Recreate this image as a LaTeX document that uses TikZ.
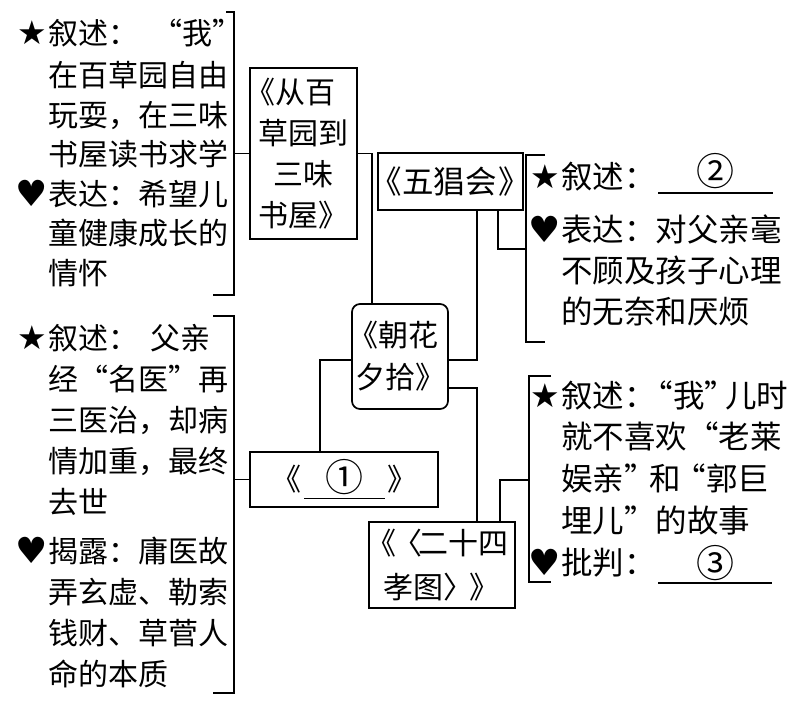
\documentclass[tikz,border=0pt]{standalone}
\usepackage{fontspec}
\setmainfont{Noto Sans CJK SC}
\newfontfamily\symfont{DejaVu Sans}
\newcommand\mystar{\llap{\raisebox{0pt}{\symfont\fontsize{33}{33}\selectfont ★}\kern1.5pt}}
\newcommand\myheart{\llap{\raisebox{-1pt}{\symfont\fontsize{36}{36}\selectfont ♥}\kern0pt}}
\newcommand\circd[2]{\smash{\raisebox{#1}{\fontsize{38}{38}\selectfont #2}}}
\newcommand\blank[4]{\rlap{\smash{\rule[#1]{#2}{1.5pt}}}\makebox[#2]{\circd{#3}{#4}}}
\tikzset{
  ln/.style={line width=1.7pt},
  box/.style={draw, line width=1.7pt, inner sep=0pt, align=center},
  txt/.style={inner sep=0pt, anchor=north west, align=left},
  lfont/.style={font=\fontsize{30}{39.5}\selectfont},
  rfont/.style={font=\fontsize{31.5}{41.7}\selectfont},
}
\begin{document}
\begin{tikzpicture}[x=1pt,y=-1pt]
\useasboundingbox (0,0) rectangle (804,705);
% text blocks
\node[txt, lfont] (tl) at (48,14.5) {\rule{0pt}{30pt}\mystar 叙述：\hspace{14pt}“我”\\[2.5pt]
在百草园自由\\ 玩耍，在三味\\ 书屋读书求学\\ \myheart 表达：希望儿\\ 童健康成长的\\ 情怀};
\node[txt, font=\fontsize{30}{41}\selectfont] (bl) at (48,319.4) {\rule{0pt}{30pt}\mystar 叙述：\hspace{12pt}父亲\\
经“名医”再\\ 三医治，却病\\ 情加重，最终\\ 去世\\[8pt] \myheart 揭露：庸医故\\ 弄玄虚、勒索\\ 钱财、草菅人\\ 命的本质};
\node[txt, font=\fontsize{31.5}{41}\selectfont] (tr) at (561,158) {\rule{0pt}{30pt}\mystar 叙述：\hspace{2.5pt}\blank{-5.5pt}{115pt}{2.7pt}{②}\\[12pt]
\myheart 表达：对父亲毫\\ 不顾及孩子心理\\ 的无奈和厌烦};
\node[txt, rfont] (br) at (561,377) {\rule{0pt}{30pt}\mystar 叙述：\kern-0.45em“我”\kern-0.35em儿时\\
就不喜欢“老莱\\ 娱亲”\kern-0.2em和\kern-0.2em“郭巨\\ 埋儿”的故事\\ \myheart 批判：\hspace{2.5pt}\blank{-9.5pt}{114pt}{-3pt}{③}};
% boxes
\node[box, minimum width=107pt, minimum height=171pt, font=\fontsize{30}{41}\selectfont] (b1) at (303.5,153.5) {\kern-13pt《从百\kern13pt\\草园到\\三味\\书屋》};
\node[box, minimum width=145pt, minimum height=57pt, font=\fontsize{31.5}{41}\selectfont] (b5) at (450.5,181.5) {\kern-10pt《五猖会\kern2pt》\kern-10pt};
\node[box, rounded corners=8pt, minimum width=96pt, minimum height=105pt, font=\fontsize{30}{42}\selectfont] (bz) at (400,356.5) {\kern-7pt《朝花\kern7pt\\夕拾》};
\node[box, minimum width=188pt, minimum height=55pt, font=\fontsize{30}{40}\selectfont] (bq) at (344,479.5) {《\hspace{3pt}\blank{-8.5pt}{81pt}{-1pt}{①}\hspace{2pt}》};
\node[box, minimum width=146pt, minimum height=86pt, font=\fontsize{30}{44}\selectfont, align=left] (b24) at (442,565) {\hspace*{-10pt}《\kern-4pt〈\kern-4pt二十四\\\hspace*{7pt}孝图〉\kern-4pt》};
% bracket corner coordinates
\coordinate (tlTop) at (226,12);  \coordinate (tlBot) at (213,295);
\coordinate (blTop) at (213,316); \coordinate (blBot) at (213,693);
\coordinate (trTop) at (545,155); \coordinate (trBot) at (545,342);
\coordinate (brTop) at (551,376); \coordinate (brBot) at (551,582);
\coordinate (trMid) at (526,249); \coordinate (brMid) at (529,480);
% brackets
\draw[ln] (tlTop) -- (234,12) |- (tlBot);
\draw[ln] (blTop) -- (234,316) |- (blBot);
\draw[ln] (trTop) -- (526,155) |- (trBot);
\draw[ln] (brTop) -- (529,376) |- (brBot);
% connectors
\draw[ln] (b1.west) -- ++(-16,0);
\draw[ln] (bq.west) -- ++(-16,0);
\draw[ln] (b1.east) -| ([xshift=-28pt]bz.north);
\draw[ln] ([xshift=26.5pt]b5.south) |- ([yshift=-3.5pt]bz.east);
\draw[ln] ([yshift=-31.5pt]bz.east) -| ([xshift=35pt]b24.north);
\draw[ln] ([yshift=-3.5pt]bz.west) -| ([xshift=-24pt]bq.north);
\draw[ln] ([xshift=47.5pt]b5.south) |- (trMid);
\draw[ln] ([xshift=58pt]b24.north) |- (brMid);
\end{tikzpicture}
\end{document}
